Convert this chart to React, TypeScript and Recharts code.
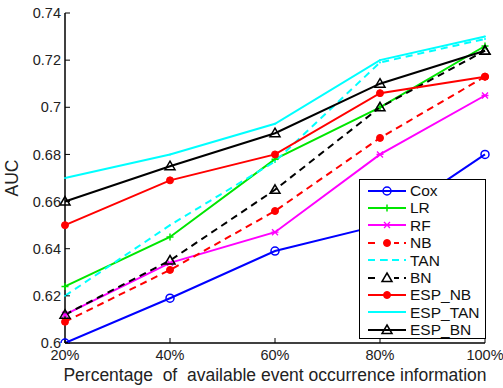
import React from 'react';
import { LineChart, Line, XAxis, YAxis, Legend } from 'recharts';

const categories = ['20%', '40%', '60%', '80%', '100%'];
const cox = [0.6, 0.619, 0.639, 0.65, 0.68];
const lr = [0.624, 0.645, 0.678, 0.7, 0.726];
const rf = [0.612, 0.634, 0.647, 0.68, 0.705];
const nb = [0.609, 0.631, 0.656, 0.687, 0.713];
const tan = [0.62, 0.65, 0.677, 0.719, 0.729];
const bn = [0.612, 0.635, 0.665, 0.7, 0.724];
const espNb = [0.65, 0.669, 0.68, 0.706, 0.713];
const espTan = [0.67, 0.68, 0.693, 0.72, 0.73];
const espBn = [0.66, 0.675, 0.689, 0.71, 0.724];
const yTicks = [0.6, 0.62, 0.64, 0.66, 0.68, 0.7, 0.72, 0.74];

type Shape = 'circle' | 'plus' | 'x' | 'dot' | 'point' | 'triangle' | 'none';

const series: { key: string; name: string; color: string; dashed: boolean; shape: Shape; values: number[] }[] = [
  { key: 'cox', name: 'Cox', color: '#0000ff', dashed: false, shape: 'circle', values: cox },
  { key: 'lr', name: 'LR', color: '#00e600', dashed: false, shape: 'plus', values: lr },
  { key: 'rf', name: 'RF', color: '#ff00ff', dashed: false, shape: 'x', values: rf },
  { key: 'nb', name: 'NB', color: '#ff0000', dashed: true, shape: 'dot', values: nb },
  { key: 'tan', name: 'TAN', color: '#00ffff', dashed: true, shape: 'point', values: tan },
  { key: 'bn', name: 'BN', color: '#000000', dashed: true, shape: 'triangle', values: bn },
  { key: 'espNb', name: 'ESP_NB', color: '#ff0000', dashed: false, shape: 'dot', values: espNb },
  { key: 'espTan', name: 'ESP_TAN', color: '#00ffff', dashed: false, shape: 'point', values: espTan },
  { key: 'espBn', name: 'ESP_BN', color: '#000000', dashed: false, shape: 'triangle', values: espBn },
];

const data = categories.map((c, i) => {
  const row: Record<string, number | string> = { x: c };
  series.forEach((s) => (row[s.key] = s.values[i]));
  return row;
});

const FONT = '"Liberation Sans", Arial, Helvetica, sans-serif';

const marker = (shape: Shape, color: string, cx: number, cy: number, key?: string) => {
  switch (shape) {
    case 'circle':
      return <circle key={key} cx={cx} cy={cy} r={4} fill="none" stroke={color} strokeWidth={1.5} />;
    case 'plus':
      return (
        <path key={key} d={`M${cx - 3.5},${cy}H${cx + 3.5}M${cx},${cy - 3.5}V${cy + 3.5}`} stroke={color} strokeWidth={1.5} />
      );
    case 'x':
      return (
        <path
          key={key}
          d={`M${cx - 3},${cy - 3}L${cx + 3},${cy + 3}M${cx - 3},${cy + 3}L${cx + 3},${cy - 3}M${cx - 3.5},${cy}H${cx + 3.5}`}
          stroke={color}
          strokeWidth={1.3}
        />
      );
    case 'dot':
      return <circle key={key} cx={cx} cy={cy} r={3.5} fill={color} stroke={color} />;
    case 'point':
      return <circle key={key} cx={cx} cy={cy} r={1} fill={color} stroke="none" />;
    case 'triangle':
      return (
        <path
          key={key}
          d={`M${cx},${cy - 5}L${cx + 5},${cy + 3.5}L${cx - 5},${cy + 3.5}Z`}
          fill="none"
          stroke={color}
          strokeWidth={1.5}
        />
      );
    default:
      return <g key={key} />;
  }
};

const makeDot = (shape: Shape, color: string) => (props: any) =>
  marker(shape, color, props.cx, props.cy, `${props.dataKey}-${props.index}`);

const renderLegend = () => (
  <div
    style={{
      border: '1px solid #000',
      background: '#fff',
      width: 125,
      height: 156,
      boxSizing: 'content-box',
      fontFamily: FONT,
      fontSize: 15.5,
      paddingTop: 2,
    }}
  >
    {series.map((s) => (
      <div key={s.key} style={{ height: 17.4, display: 'flex', alignItems: 'center' }}>
        <svg width={46} height={14} style={{ marginLeft: 4 }}>
          <line
            x1={4}
            y1={7}
            x2={42}
            y2={7}
            stroke={s.color}
            strokeWidth={2}
            strokeDasharray={s.dashed ? '7 5' : undefined}
          />
          {s.dashed && (s.shape === 'dot' || s.shape === 'triangle') ? (
            <rect x={16} y={0} width={14} height={14} fill="#fff" />
          ) : null}
          {marker(s.shape, s.color, 23, 7)}
        </svg>
        <span style={{ color: '#111', lineHeight: 1 }}>{s.name}</span>
      </div>
    ))}
  </div>
);

export default function App() {
  return (
    <div style={{ position: 'absolute', left: 0, top: 0, width: 503, height: 388, background: '#fff' }}>
      <LineChart width={503} height={388} data={data} margin={{ top: 13, right: 18, left: 0, bottom: 0 }}>
        <XAxis
          dataKey="x"
          height={45}
          tickSize={-5}
          tickMargin={12}
          axisLine={{ stroke: '#000', strokeWidth: 1.5 }}
          tickLine={{ stroke: '#000' }}
          tick={{ fill: '#222', fontSize: 14.5, fontFamily: FONT }}
          padding={{ left: 0, right: 0 }}
          interval={0}
          label={{
            value: 'Percentage\u00a0 of\u00a0 available event occurrence information',
            position: 'insideBottom',
            offset: 7,
            style: { fill: '#222', fontSize: 17.5, fontFamily: FONT },
          }}
        />
        <XAxis
          xAxisId="top"
          dataKey="x"
          orientation="top"
          height={0}
          tickSize={-5}
          tick={false}
          axisLine={{ stroke: '#000', strokeWidth: 1.5 }}
          tickLine={{ stroke: '#000' }}
          interval={0}
        />
        <YAxis
          width={65}
          domain={[0.6, 0.74]}
          ticks={yTicks}
          type="number"
          allowDataOverflow
          tickSize={-5}
          tickMargin={9}
          axisLine={{ stroke: '#000', strokeWidth: 1.5 }}
          tickLine={{ stroke: '#000' }}
          tick={{ fill: '#222', fontSize: 14.5, fontFamily: FONT }}
          tickFormatter={(v: number) => String(Number(v.toFixed(2)))}
          label={{
            value: 'AUC',
            angle: -90,
            position: 'insideLeft',
            offset: 12,
            style: { fill: '#222', fontSize: 17.5, fontFamily: FONT, textAnchor: 'middle' },
          }}
        />
        <YAxis
          yAxisId="right"
          orientation="right"
          width={0}
          domain={[0.6, 0.74]}
          ticks={yTicks}
          type="number"
          tickSize={-5}
          tick={false}
          axisLine={{ stroke: '#000', strokeWidth: 1.5 }}
          tickLine={{ stroke: '#000' }}
        />
        <Legend
          layout="horizontal"
          verticalAlign="middle"
          align="center"
          content={renderLegend}
          wrapperStyle={{ position: 'absolute', left: 359, top: 179, width: 127, height: 158 }}
        />
        {series.map((s) => (
          <Line
            key={s.key}
            dataKey={s.key}
            name={s.name}
            stroke={s.color}
            strokeWidth={2}
            strokeDasharray={s.dashed ? '7 5' : undefined}
            dot={makeDot(s.shape, s.color)}
            activeDot={false}
            isAnimationActive={false}
            type="linear"
          />
        ))}
      </LineChart>
    </div>
  );
}
